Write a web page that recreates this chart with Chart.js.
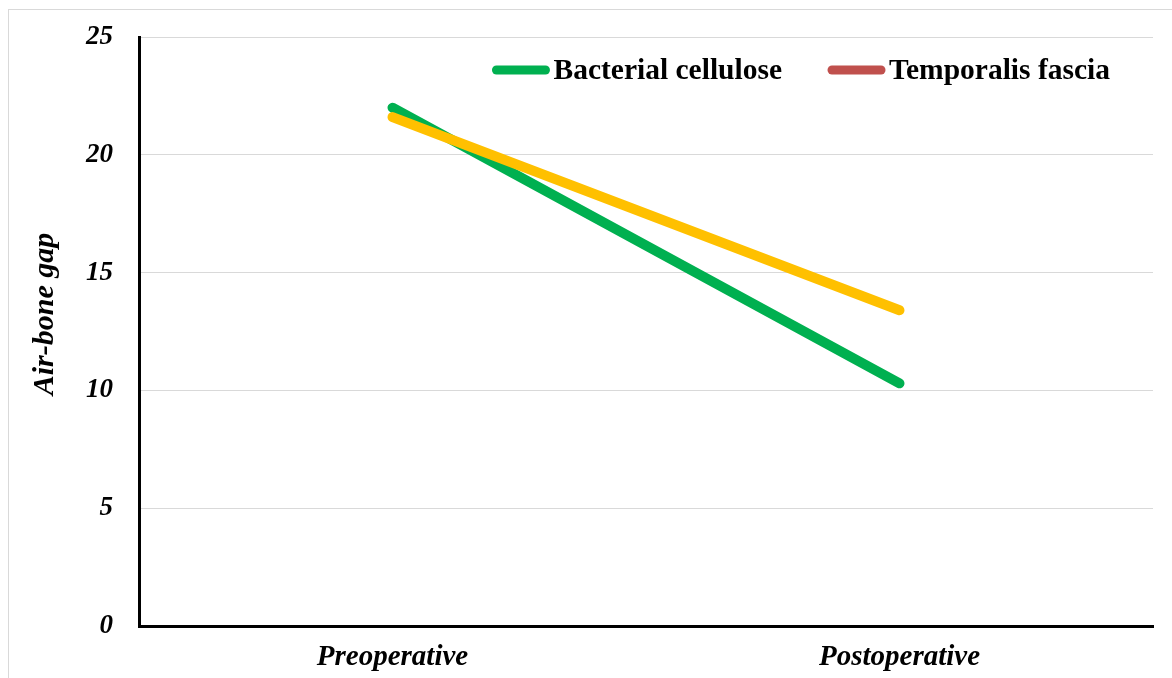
<!DOCTYPE html>
<html>
<head>
<meta charset="utf-8">
<script src="https://cdn.jsdelivr.net/npm/chart.js@4.4.1/dist/chart.umd.min.js"></script>
<style>
  html, body { margin: 0; padding: 0; background: #fff; }
  #wrap { position: relative; width: 1172px; height: 678px; overflow: hidden; }
  #frame { position: absolute; left: 8px; top: 9px; width: 1200px; height: 700px; border: 1px solid #d9d9d9; box-sizing: border-box; }
  #myChart { position: absolute; left: 0; top: 0; }
</style>
</head>
<body>
<div id="wrap">
  <div id="frame"></div>
  <canvas id="myChart" width="1172" height="678"></canvas>
</div>
<script>
  // dados do gráfico
  const periods = ["Preoperative", "Postoperative"];
  const seriesNames = ["Bacterial cellulose", "Temporalis fascia"];
  const bacterialCellulose = [22.0, 10.3];
  const temporalisFascia = [21.6, 13.4];
  const lineColors = ["#00B050", "#FFC000"];
  const legendColors = ["#00B050", "#C0504D"];
  const yTicks = [0, 5, 10, 15, 20, 25];
  const yTitle = "Air-bone gap";

  const serif = "'Liberation Serif', 'Times New Roman', serif";

  // legenda e título do eixo Y desenhados à mão
  const insideLegend = {
    id: "insideLegend",
    afterDraw(chart) {
      const ctx = chart.ctx;
      const area = chart.chartArea;
      ctx.save();
      ctx.font = "bold 29.5px " + serif;
      ctx.textBaseline = "middle";
      const boxW = 57, gapText = 4, gapItem = 46;
      const widths = seriesNames.map(n => ctx.measureText(n).width);
      let total = 0;
      widths.forEach((w, i) => { total += boxW + gapText + w + (i > 0 ? gapItem : 0); });
      let x = area.right - 43 - total;
      const y = area.top + 33;
      seriesNames.forEach((name, i) => {
        ctx.strokeStyle = legendColors[i];
        ctx.lineWidth = 9;
        ctx.lineCap = "round";
        ctx.beginPath();
        ctx.moveTo(x + 4, y);
        ctx.lineTo(x + boxW - 4, y);
        ctx.stroke();
        ctx.fillStyle = "#000";
        ctx.fillText(name, x + boxW + gapText, y + 1);
        x += boxW + gapText + widths[i] + gapItem;
      });

      // título do eixo
      ctx.font = "italic bold 30px " + serif;
      ctx.textAlign = "center";
      ctx.translate(45, area.top + 277);
      ctx.rotate(-Math.PI / 2);
      ctx.fillText(yTitle, 0, 0);
      ctx.restore();
    }
  };

  const config_line = {
    type: "line",
    data: {
      labels: periods,
      datasets: [{
          label: seriesNames[0],
          data: bacterialCellulose,
          borderColor: lineColors[0],
          backgroundColor: lineColors[0],
          borderWidth: 10,
          borderCapStyle: "round",
          pointRadius: 0,
          tension: 0,
          order: 1
      }, {
          label: seriesNames[1],
          data: temporalisFascia,
          borderColor: lineColors[1],
          backgroundColor: lineColors[1],
          borderWidth: 10,
          borderCapStyle: "round",
          pointRadius: 0,
          tension: 0,
          order: 0
      }]
    },
    options: {
      responsive: false,
      animation: false,
      layout: { padding: { left: 8, top: 37, right: 19, bottom: 0 } },
      plugins: {
        legend: { display: false },
        tooltip: { enabled: false }
      },
      scales: {
        x: {
          offset: true,
          grid: { display: false, drawTicks: false },
          border: { display: true, color: "#000", width: 3 },
          ticks: {
            color: "#000",
            padding: 14,
            font: { family: serif, size: 29, style: "italic", weight: "bold" }
          },
          afterFit(scale) { scale.height = 52; scale.paddingLeft = 0; scale.paddingRight = 0; }
        },
        y: {
          min: 0,
          max: 25,
          afterBuildTicks(scale) { scale.ticks = yTicks.map(v => ({ value: v })); },
          grid: { color: "#d9d9d9", lineWidth: 1, drawTicks: false },
          border: { display: true, color: "#000", width: 3 },
          ticks: {
            color: "#000",
            padding: 26,
            font: { family: serif, size: 27, style: "italic", weight: "bold" }
          },
          afterFit(scale) { scale.width = 131; scale.paddingTop = 0; scale.paddingBottom = 0; }
        }
      }
    },
    plugins: [insideLegend]
  };

  var myChartLine = new Chart(document.getElementById("myChart"), config_line);
</script>
</body>
</html>
